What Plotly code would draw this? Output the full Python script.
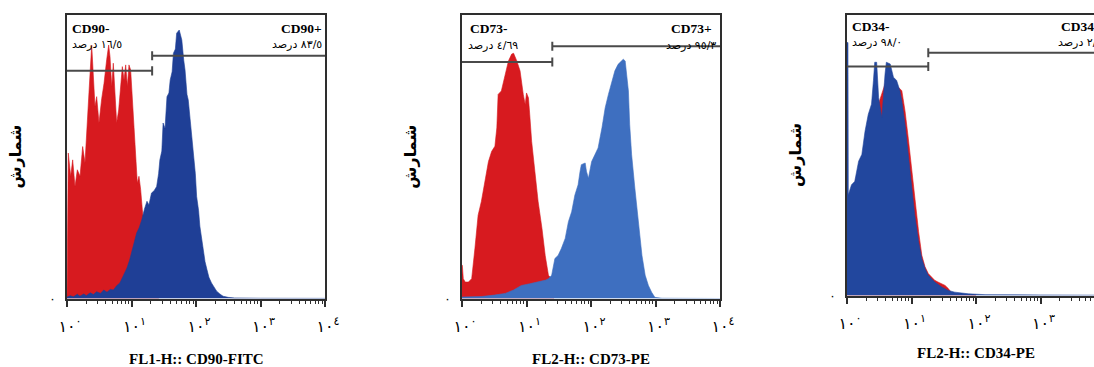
import plotly.graph_objects as go

W, H = 1094, 367

# ---------------- data ----------------
decade_vals = [1, 10, 100, 1000, 10000]
decade_text = ["١٠<sup>٠</sup>", "١٠<sup>١</sup>", "١٠<sup>٢</sup>", "١٠<sup>٣</sup>", "١٠<sup>٤</sup>"]
minor_vals = [k * 10 ** d for d in range(4) for k in range(2, 10)]

x_titles = ["FL1-H:: CD90-FITC", "FL2-H:: CD73-PE", "FL2-H:: CD34-PE"]
y_title = "شمارش"
neg_labels = ["CD90-", "CD73-", "CD34-"]
pos_labels = ["CD90+", "CD73+", "CD34+"]
neg_pct = ["١٦/٥ درصد", "٤/٦٩ درصد", "٩٨/٠ درصد"]
pos_pct = ["٨٣/٥ درصد", "٩٥/٣ درصد", "٢/٠ درصد"]

# gate split (log10 decade), gate heights (% of y range)
gate_split = [1.32, 1.40, 1.26]
gate_neg_h = [80.3, 83.4, 81.5]
gate_pos_h = [85.6, 89.0, 86.4]

# CD90 panel: isotype (red) and stained (blue); x in log10 decades, y in % of max scale
p1_red_log = [0.0, 0.02, 0.057, 0.088, 0.124, 0.16, 0.202, 0.243, 0.279, 0.315, 0.346, 0.383, 0.408,
              0.434, 0.46, 0.496, 0.538, 0.574, 0.615, 0.646, 0.667, 0.693, 0.718, 0.744, 0.77, 0.801,
              0.832, 0.858, 0.884, 0.91, 0.936, 0.961, 0.987, 1.013, 1.039, 1.065, 1.09, 1.116, 1.142,
              1.168, 1.194, 1.22, 1.246, 1.287, 1.339, 1.39, 1.42]
p1_red_cnt = [0.0, 51.3, 43.1, 48.9, 39.5, 45.4, 43.1, 53.6, 47.8, 60.7, 74.8, 89.4, 80.6,
              67.7, 71.2, 61.9, 70.5, 75.9, 84.2, 89.4, 85.3, 74.8, 83.0, 70.5, 61.9, 66.5,
              75.9, 81.8, 77.1, 82.4, 74.8, 82.4, 80.6, 70.1, 59.5, 47.8, 40.7, 43.1, 38.4,
              31.3, 25.5, 21.9, 16.1, 9.0, 4.3, 0.8, 0.0]
p1_blue_log = [0.0, 0.05, 0.1, 0.16, 0.2, 0.26, 0.3, 0.36, 0.41, 0.46, 0.52, 0.57, 0.62, 0.67, 0.72,
               0.77, 0.82, 0.86, 0.9, 0.93, 0.97, 1.0, 1.04, 1.08, 1.12, 1.16, 1.2, 1.24, 1.27, 1.31,
               1.35, 1.39, 1.42, 1.44, 1.47, 1.49, 1.52, 1.55, 1.58, 1.6, 1.63, 1.65, 1.68, 1.7, 1.74,
               1.76, 1.78, 1.81, 1.83, 1.86, 1.88, 1.91, 1.94, 1.96, 1.99, 2.01, 2.04, 2.06, 2.09,
               2.11, 2.14, 2.17, 2.2, 2.24, 2.28, 2.32, 2.37, 2.42, 2.5, 2.6, 3.0, 4.0]
p1_blue_cnt = [0.5, 1.0, 0.6, 1.5, 0.8, 1.6, 1.0, 2.0, 1.4, 2.4, 1.8, 3.0, 2.2, 3.2, 3.0,
               4.5, 5.5, 7.5, 9.0, 10.8, 13.5, 16.1, 19.5, 23.1, 25.0, 27.8, 31.5, 34.3, 33.0, 37.2,
               38.0, 39.5, 44.0, 48.9, 52.0, 61.9, 60.0, 71.2, 72.5, 77.1, 80.0, 86.5, 88.0, 93.6, 94.7,
               93.0, 91.2, 84.0, 80.6, 72.0, 70.0, 63.0, 56.0, 50.1, 44.0, 36.0, 31.0, 25.5, 20.5,
               16.1, 13.0, 10.2, 7.5, 5.5, 4.0, 2.6, 1.6, 0.8, 0.4, 0.2, 0.1, 0.05]

# CD73 panel
p2_red_log = [0.0, 0.005, 0.02, 0.05, 0.1, 0.15, 0.2, 0.25, 0.3, 0.36, 0.41, 0.46, 0.51, 0.54, 0.56,
              0.61, 0.67, 0.72, 0.77, 0.8, 0.85, 0.9, 0.95, 0.98, 1.0, 1.03, 1.05, 1.08, 1.13, 1.18,
              1.24, 1.29, 1.34, 1.39, 1.42]
p2_red_cnt = [11.7, 11.7, 7.0, 5.8, 5.8, 7.0, 17.6, 29.4, 34.2, 41.2, 48.3, 51.9, 53.7, 60.2, 72.0,
              73.2, 79.1, 83.8, 86.2, 86.5, 83.8, 80.3, 72.0, 68.4, 72.5, 70.8, 64.9, 55.4, 44.8, 34.2,
              24.7, 15.2, 8.2, 7.0, 0.0]
p2_blue_log = [0.0, 0.3, 0.5, 0.67, 0.8, 0.92, 1.05, 1.18, 1.3, 1.34, 1.39, 1.44, 1.49, 1.54, 1.6,
               1.65, 1.7, 1.75, 1.8, 1.83, 1.85, 1.91, 1.93, 1.96, 1.98, 2.01, 2.06, 2.11, 2.17, 2.22,
               2.27, 2.32, 2.37, 2.42, 2.48, 2.5, 2.53, 2.55, 2.58, 2.6, 2.63, 2.68, 2.73, 2.79, 2.84,
               2.89, 2.94, 2.99, 3.1, 4.0]
p2_blue_cnt = [0.5, 0.7, 1.2, 1.8, 3.0, 4.6, 5.2, 5.8, 6.5, 7.0, 8.2, 14.1, 15.2, 17.6, 21.2,
               27.1, 30.6, 36.5, 40.1, 44.8, 47.2, 47.8, 44.8, 42.4, 44.8, 48.3, 50.7, 53.1, 60.2, 67.3,
               72.0, 76.7, 80.3, 82.6, 83.8, 84.4, 83.8, 79.1, 73.2, 61.3, 50.7, 38.9, 27.1, 15.2, 8.2,
               4.6, 2.2, 0.4, 0.1, 0.0]

# CD34 panel
p3_red_log = [0.0, 0.3, 0.6, 0.8, 0.85, 0.9, 0.95, 1.0, 1.05, 1.11, 1.16, 1.21, 1.26, 1.31, 1.36,
              1.41, 1.47, 1.52, 1.57, 1.62, 1.7, 2.0]
p3_red_cnt = [30.0, 55.0, 76.0, 74.0, 72.9, 65.6, 56.0, 45.4, 33.5, 22.7, 14.3, 10.2, 7.8, 6.6, 5.4,
              4.8, 4.3, 3.6, 2.5, 1.0, 0.5, 0.2]
p3_blue_log = [0.0, 0.015, 0.02, 0.07, 0.12, 0.18, 0.23, 0.28, 0.33, 0.38, 0.41, 0.43, 0.46, 0.49,
               0.54, 0.56, 0.59, 0.61, 0.67, 0.72, 0.77, 0.82, 0.85, 0.9, 0.95, 1.0, 1.05, 1.11, 1.16,
               1.21, 1.26, 1.36, 1.47, 1.57, 1.67, 1.88, 2.14, 3.0, 4.0]
p3_blue_cnt = [90.0, 90.0, 35.8, 39.4, 40.6, 47.8, 50.2, 58.5, 64.5, 68.1, 76.5, 83.0, 83.0, 70.5,
               63.3, 70.5, 78.9, 83.0, 82.4, 77.7, 76.5, 72.9, 69.3, 60.9, 50.2, 40.6, 28.7, 19.1, 13.1,
               9.6, 7.2, 4.8, 3.0, 1.8, 1.2, 0.6, 0.3, 0.2, 0.1]

red_color = "#d71a1f"
blue_colors = ["#1f3f96", "#3e6fc0", "#22479e"]

panels = [
    (p1_red_log, p1_red_cnt, p1_blue_log, p1_blue_cnt),
    (p2_red_log, p2_red_cnt, p2_blue_log, p2_blue_cnt),
    (p3_red_log, p3_red_cnt, p3_blue_log, p3_blue_cnt),
]

# ---------------- layout geometry (pixels) ----------------
x_dom_px = [(67, 325), (462, 720), (847, 1094)]
y_dom_px = [(15, 298.5), (15, 298.5), (14.5, 295.5)]
x_max_log = [4.0, 4.0, 4.0 * (1094 - 847) / 258.0]

fig = go.Figure()

for i, (rl, rc, bl, bc) in enumerate(panels):
    xa = "x" if i == 0 else f"x{i+1}"
    ya = "y" if i == 0 else f"y{i+1}"
    fig.add_trace(go.Scatter(x=[10 ** v for v in rl], y=rc, mode="lines", fill="tozeroy",
                             fillcolor=red_color, line=dict(color=red_color, width=0.6),
                             xaxis=xa, yaxis=ya, showlegend=False, hoverinfo="skip"))
    fig.add_trace(go.Scatter(x=[10 ** v for v in bl], y=bc, mode="lines", fill="tozeroy",
                             fillcolor=blue_colors[i], line=dict(color=blue_colors[i], width=0.6),
                             xaxis=xa, yaxis=ya, showlegend=False, hoverinfo="skip"))
    s = 10 ** gate_split[i]
    gn, gp = gate_neg_h[i], gate_pos_h[i]
    gate_col = "#4a4a4a"
    fig.add_trace(go.Scatter(x=[1, s, None, s, s], y=[gn, gn, None, gn - 1.6, gn + 1.6], mode="lines",
                             line=dict(color=gate_col, width=2), xaxis=xa, yaxis=ya,
                             showlegend=False, hoverinfo="skip"))
    fig.add_trace(go.Scatter(x=[s, 10 ** 4, None, s, s], y=[gp, gp, None, gp - 1.6, gp + 1.6], mode="lines",
                             line=dict(color=gate_col, width=2), xaxis=xa, yaxis=ya,
                             showlegend=False, hoverinfo="skip"))

layout = dict(width=W, height=H, margin=dict(l=0, r=0, t=0, b=0, pad=0, autoexpand=False),
              paper_bgcolor="white", plot_bgcolor="white", showlegend=False)

frame_col = "#2e2e2e"
for i in range(3):
    xk = "xaxis" if i == 0 else f"xaxis{i+1}"
    yk = "yaxis" if i == 0 else f"yaxis{i+1}"
    ya = "y" if i == 0 else f"y{i+1}"
    xa = "x" if i == 0 else f"x{i+1}"
    x0, x1 = x_dom_px[i]
    y0, y1 = y_dom_px[i]
    layout[xk] = dict(
        domain=[x0 / W, x1 / W], anchor=ya, type="log", range=[0, x_max_log[i]],
        automargin=False,
        showline=True, linecolor=frame_col, linewidth=2, mirror=True,
        showgrid=False, zeroline=False,
        tickmode="array", tickvals=decade_vals, ticktext=decade_text,
        ticks="outside", ticklen=6, tickwidth=1.5, tickcolor=frame_col,
        ticklabelstandoff=6, ticklabelshift=3,
        minor=dict(tickmode="array", tickvals=minor_vals, ticks="outside", ticklen=3,
                   tickwidth=1.2, tickcolor=frame_col),
        tickfont=dict(family="DejaVu Sans", size=16, color="black"),
        fixedrange=True,
    )
    layout[yk] = dict(
        domain=[1 - y1 / H, 1 - y0 / H], anchor=xa, range=[0, 100],
        automargin=False,
        showline=True, linecolor=frame_col, linewidth=2, mirror=(i < 2),
        showgrid=False, zeroline=False,
        tickmode="array", tickvals=[0], ticktext=["٠"], ticks="",
        tickfont=dict(family="DejaVu Sans", size=12, color="black"),
        ticklabelstandoff=7,
        title=dict(text="<b>" + y_title + "</b>", standoff=24,
                   font=dict(family="DejaVu Sans", size=16, color="black")),
        fixedrange=True,
    )

fig.update_layout(**layout)

serif = "Liberation Serif"
neg_lab_pos = [(70, 29), (468, 28), (850, 26)]
neg_pct_pos = [(70, 44), (466, 45), (850, 43)]
pos_lab_pos = [(324, 29), (714, 28), (1104, 26)]
pos_pct_pos = [(324, 44), (718, 45), (1104, 43)]
x_title_pos = [(196, 359), (591, 359), (976, 353)]

for i in range(3):
    xd = ("x" if i == 0 else f"x{i+1}") + " domain"
    x0, x1 = x_dom_px[i]
    fr = lambda px: (px - x0) / (x1 - x0)
    fig.add_annotation(text="<b>" + neg_labels[i] + "</b>", xref=xd, yref="paper",
                       x=fr(neg_lab_pos[i][0]), y=1 - neg_lab_pos[i][1] / H,
                       xanchor="left", yanchor="middle", showarrow=False,
                       font=dict(family=serif, size=13.5, color="black"))
    fig.add_annotation(text=neg_pct[i], xref=xd, yref="paper",
                       x=fr(neg_pct_pos[i][0]), y=1 - neg_pct_pos[i][1] / H,
                       xanchor="left", yanchor="middle", showarrow=False,
                       font=dict(family="DejaVu Sans", size=11, color="black"))
    fig.add_annotation(text="<b>" + pos_labels[i] + "</b>", xref=xd, yref="paper",
                       x=fr(pos_lab_pos[i][0]), y=1 - pos_lab_pos[i][1] / H,
                       xanchor="right", yanchor="middle", showarrow=False,
                       font=dict(family=serif, size=13.5, color="black"))
    fig.add_annotation(text=pos_pct[i], xref=xd, yref="paper",
                       x=fr(pos_pct_pos[i][0]), y=1 - pos_pct_pos[i][1] / H,
                       xanchor="right", yanchor="middle", showarrow=False,
                       font=dict(family="DejaVu Sans", size=11, color="black"))
    fig.add_annotation(text="<b>" + x_titles[i] + "</b>", xref=xd, yref="paper",
                       x=fr(x_title_pos[i][0]), y=1 - x_title_pos[i][1] / H,
                       xanchor="center", yanchor="middle", showarrow=False,
                       font=dict(family=serif, size=15, color="black"))

fig.write_html("out.html", config={"displayModeBar": False},
               post_script="document.body.style.margin='0px';document.body.style.overflow='hidden';")
